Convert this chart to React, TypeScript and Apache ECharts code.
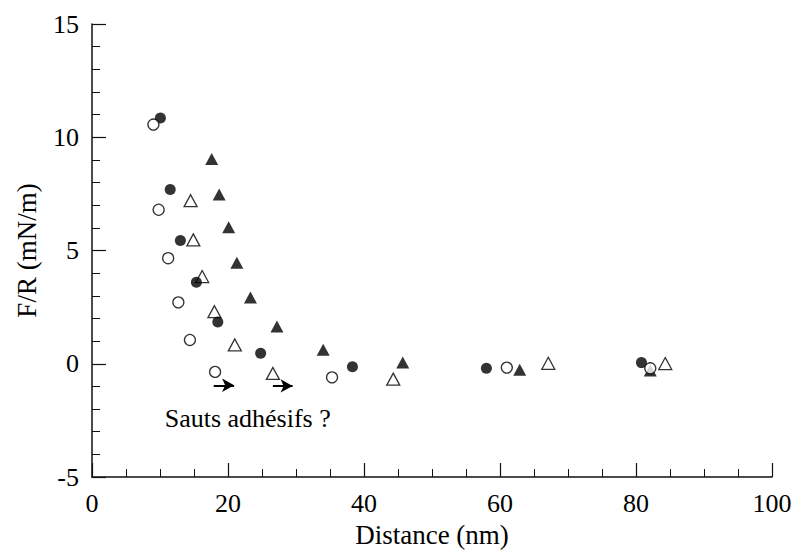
import React, { useEffect, useRef } from "react";
import * as echarts from "echarts";

// Filled circles
const filledCircles: [number, number][] = [
  [10.06, 10.85], [11.5, 7.69], [13.0, 5.44], [15.35, 3.6], [18.5, 1.84],
  [24.8, 0.46], [38.3, -0.13], [58.0, -0.2], [80.8, 0.05],
];
// Open circles
const openCircles: [number, number][] = [
  [9.03, 10.56], [9.8, 6.8], [11.2, 4.66], [12.7, 2.71], [14.4, 1.05],
  [18.1, -0.36], [35.3, -0.6], [61.0, -0.17], [82.1, -0.2],
];
// Filled triangles
const filledTriangles: [number, number][] = [
  [17.6, 9.04], [18.7, 7.47], [20.1, 6.03], [21.3, 4.46], [23.3, 2.93],
  [27.2, 1.65], [34.0, 0.62], [45.7, 0.05], [62.9, -0.27], [82.1, -0.3],
];
// Open triangles
const openTriangles: [number, number][] = [
  [14.5, 7.2], [14.9, 5.47], [16.2, 3.85], [18.0, 2.3], [21.0, 0.83],
  [26.6, -0.43], [44.3, -0.68], [67.1, 0.02], [84.3, 0.01],
];
// Arrows (start, end)
const arrows: [[number, number], [number, number]][] = [
  [[17.9, -0.95], [20.9, -0.95]],
  [[26.6, -0.98], [29.5, -0.98]],
];
const annotation = { text: "Sauts adhésifs ?", at: [22.9, -2.4] as [number, number] };

const xTicks = { min: 0, max: 100, interval: 20 };
const yTicks = { min: -5, max: 15, interval: 5 };

const FONT = "'Liberation Serif', 'Times New Roman', serif";

export default function App() {
  const ref = useRef<HTMLDivElement>(null);
  useEffect(() => {
    if (!ref.current) return;
    const chart = echarts.init(ref.current, undefined, { renderer: "svg" });
    const axisCommon = {
      axisLine: { show: true, onZero: false, lineStyle: { color: "#111", width: 1.5 } },
      axisTick: { show: true, inside: true, length: 14, lineStyle: { color: "#111", width: 1.2 } },
      minorTick: { show: true, length: 8, lineStyle: { color: "#111", width: 1 } },
      splitLine: { show: false },
      axisLabel: { color: "#000", fontSize: 26, fontFamily: FONT },
      nameTextStyle: { color: "#000", fontSize: 27, fontFamily: FONT },
    };
    const open = { color: "#fff", borderColor: "#000", borderWidth: 1.3 };
    const filled = { color: "#000" };
    chart.setOption({
      animation: false,
      backgroundColor: "#fff",
      grid: { left: 92, top: 24, width: 680, height: 454, containLabel: false },
      xAxis: {
        type: "value",
        ...xTicks,
        name: "Distance (nm)",
        nameLocation: "middle",
        nameGap: 44,
        ...axisCommon,
        axisLabel: { ...axisCommon.axisLabel, margin: 13 },
        minorTick: { ...axisCommon.minorTick, splitNumber: 4 },
      },
      yAxis: {
        type: "value",
        ...yTicks,
        name: "F/R (mN/m)",
        nameLocation: "middle",
        nameGap: 52,
        ...axisCommon,
        axisLabel: { ...axisCommon.axisLabel, margin: 13 },
        minorTick: { ...axisCommon.minorTick, splitNumber: 5 },
      },
      series: [
        {
          name: "open triangles",
          type: "scatter",
          data: openTriangles,
          symbol: "triangle",
          symbolSize: [13, 12],
          itemStyle: open,
          z: 2,
        },
        {
          name: "filled circles",
          type: "scatter",
          data: filledCircles,
          symbol: "circle",
          symbolSize: 11,
          itemStyle: filled,
          z: 3,
        },
        {
          name: "filled triangles",
          type: "scatter",
          data: filledTriangles,
          symbol: "triangle",
          symbolSize: [13, 12],
          itemStyle: filled,
          z: 4,
        },
        {
          name: "open circles",
          type: "scatter",
          data: openCircles,
          symbol: "circle",
          symbolSize: 11,
          itemStyle: open,
          z: 5,
          markLine: {
            silent: true,
            symbol: ["none", "arrow"],
            symbolSize: [10, 12],
            label: { show: false },
            lineStyle: { color: "#000", width: 2, type: "solid" },
            data: arrows.map(([a, b]) => [{ coord: a }, { coord: b }]),
          },
          markPoint: {
            silent: true,
            symbol: "circle",
            symbolSize: 0,
            label: {
              show: true,
              position: "inside",
              formatter: annotation.text,
              color: "#000",
              fontSize: 26,
              fontFamily: FONT,
            },
            data: [{ coord: annotation.at }],
          },
        },
      ],
    });
    return () => chart.dispose();
  }, []);
  return (
    <div
      ref={ref}
      style={{ position: "fixed", left: 0, top: 0, width: 796, height: 553, background: "#fff" }}
    />
  );
}
